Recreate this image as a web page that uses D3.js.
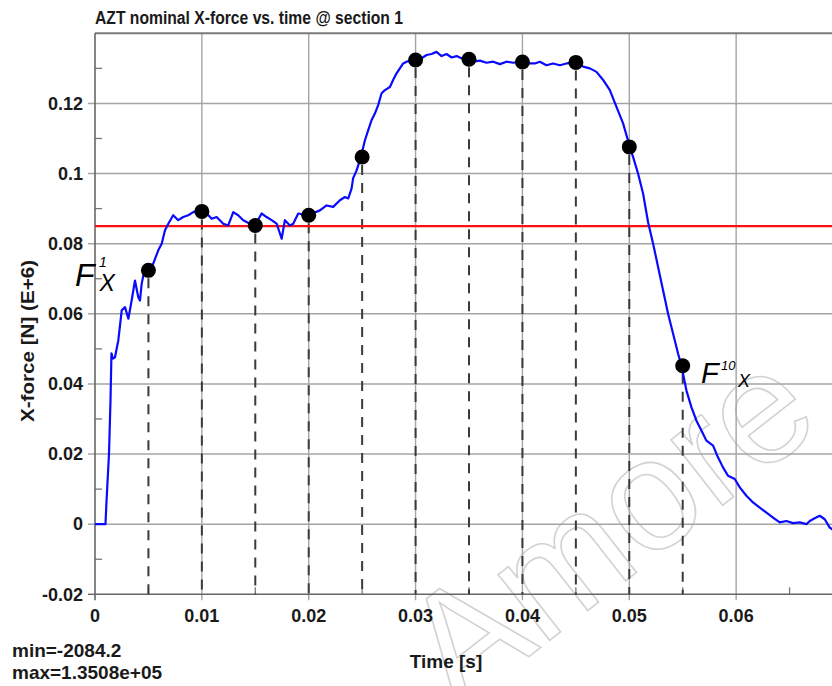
<!DOCTYPE html>
<html>
<head>
<meta charset="utf-8">
<script src="https://cdn.jsdelivr.net/npm/d3@7"></script>
<style>
  html, body { margin: 0; padding: 0; background: #fff; }
  svg { display: block; }
  text { font-family: "Liberation Sans", Arial, sans-serif; }
</style>
</head>
<body>
<svg id="chart" width="832" height="686"></svg>
<script>
// ---- data (time in s, X-force in N x 1e6) ----
const times = [0, 0.00084, 0.00098, 0.00108, 0.00131, 0.00145, 0.00154, 0.00168, 0.00187, 0.00218,
  0.0025, 0.00281, 0.00312, 0.00343, 0.00374, 0.00405, 0.00421, 0.00437, 0.00468, 0.00499,
  0.00545, 0.00592, 0.00624, 0.00655, 0.00686, 0.00732, 0.00779, 0.00826, 0.00873, 0.0092,
  0.00966, 0.00998, 0.01045, 0.01092, 0.01138, 0.012, 0.01247, 0.01294, 0.0134, 0.01387,
  0.0145, 0.01497, 0.01559, 0.01606, 0.01653, 0.017, 0.01747, 0.01777, 0.01824, 0.01855,
  0.01902, 0.01995, 0.02105, 0.02167, 0.02229, 0.02292, 0.02339, 0.0237, 0.02401, 0.02416,
  0.02448, 0.02488, 0.02526, 0.02557, 0.02588, 0.02619, 0.0265, 0.02682, 0.02713, 0.0276,
  0.0279, 0.02822, 0.02853, 0.02884, 0.02916, 0.03003, 0.03056, 0.03103, 0.0315, 0.03196,
  0.03243, 0.0329, 0.03337, 0.03384, 0.0343, 0.03487, 0.03539, 0.03602, 0.03664, 0.03726,
  0.03789, 0.03851, 0.03913, 0.03992, 0.04053, 0.04116, 0.04163, 0.04225, 0.04287, 0.0435,
  0.04413, 0.045, 0.04568, 0.04631, 0.04693, 0.04755, 0.04818, 0.0488, 0.04942, 0.05005,
  0.05036, 0.05082, 0.05129, 0.05176, 0.05223, 0.0527, 0.05316, 0.05363, 0.0541, 0.05457,
  0.05488, 0.05535, 0.05582, 0.05629, 0.05675, 0.05722, 0.05784, 0.05831, 0.05877, 0.05924,
  0.05987, 0.06034, 0.06096, 0.06158, 0.06221, 0.06284, 0.06345, 0.06408, 0.06471, 0.06532,
  0.06595, 0.06658, 0.06689, 0.06735, 0.06782, 0.06829, 0.06876, 0.06922];
const forces = [0, 0, 0, 0.0067, 0.0201, 0.0352, 0.0487, 0.0472, 0.0476, 0.0524,
  0.061, 0.0619, 0.0586, 0.0638, 0.0695, 0.0647, 0.0638, 0.0686, 0.0733, 0.0724,
  0.0743, 0.0781, 0.08, 0.0838, 0.0857, 0.0881, 0.0867, 0.0876, 0.0881, 0.089,
  0.0895, 0.0892, 0.0886, 0.0871, 0.0876, 0.0857, 0.0852, 0.089, 0.0881, 0.0867,
  0.0857, 0.0852, 0.0886, 0.0876, 0.0867, 0.0857, 0.0814, 0.0867, 0.0852, 0.0857,
  0.0886, 0.0881, 0.0895, 0.0909, 0.0905, 0.0924, 0.0933, 0.0929, 0.0957, 0.0987,
  0.1009, 0.1047, 0.1095, 0.1124, 0.1152, 0.1171, 0.1195, 0.1229, 0.1238, 0.1247,
  0.1267, 0.1286, 0.13, 0.1314, 0.1319, 0.1324, 0.1329, 0.1338, 0.1341, 0.1347,
  0.1335, 0.1341, 0.1331, 0.1335, 0.1329, 0.1326, 0.1319, 0.1322, 0.1316, 0.1319,
  0.1312, 0.1319, 0.1316, 0.1319, 0.1314, 0.1314, 0.1319, 0.1309, 0.1314, 0.1309,
  0.1314, 0.1317, 0.1305, 0.13, 0.129, 0.1267, 0.1238, 0.119, 0.1143, 0.1076,
  0.1047, 0.1, 0.0943, 0.0861, 0.08, 0.0733, 0.0667, 0.06, 0.0543, 0.0486,
  0.0452, 0.0381, 0.0333, 0.0295, 0.0267, 0.0238, 0.0224, 0.019, 0.0162, 0.0138,
  0.0129, 0.0105, 0.0081, 0.0062, 0.0047, 0.0033, 0.0019, 0.0005, 0.0009, 0.0003,
  0.0005, 0, 0.0009, 0.0017, 0.0024, 0.0014, -0.001, -0.0019];

const sampleTimes = [0.005, 0.01, 0.015, 0.02, 0.025, 0.03, 0.035, 0.04, 0.045, 0.05, 0.055];
const sampleForces = [0.0724, 0.0892, 0.0852, 0.0881, 0.1047, 0.1324, 0.1326, 0.1318, 0.1317, 0.1076, 0.0452];
const meanForce = 0.085;

const xTicks = [0, 0.01, 0.02, 0.03, 0.04, 0.05, 0.06];
const xTickLabels = ["0", "0.01", "0.02", "0.03", "0.04", "0.05", "0.06"];
const xMinorTicks = [0.005, 0.015, 0.025, 0.035, 0.045, 0.055, 0.065];
const yTicks = [-0.02, 0, 0.02, 0.04, 0.06, 0.08, 0.1, 0.12];
const yTickLabels = ["-0.02", "0", "0.02", "0.04", "0.06", "0.08", "0.1", "0.12"];
const yMinorTicks = [-0.01, 0.01, 0.03, 0.05, 0.07, 0.09, 0.11, 0.13];

const titleText = "AZT nominal X-force vs. time @ section 1";
const xLabel = "Time [s]";
const yLabel = "X-force [N] (E+6)";
const statsLines = ["min=-2084.2", "max=1.3508e+05"];

(function () {
// ---- layout ----
const svg = d3.select("#chart");
const pL = 95, pT = 33.3, pB = 594.3, pR = 843;
const x = d3.scaleLinear().domain([0, 0.07]).range([pL, pR]);
const y = d3.scaleLinear().domain([-0.02, 0.14]).range([pB, pT]);

svg.append("defs").append("clipPath").attr("id", "plotclip")
  .append("rect").attr("x", pL).attr("y", pT).attr("width", pR - pL).attr("height", pB - pT);

// watermark
svg.append("text")
  .attr("transform", "translate(458,712) rotate(-38)")
  .attr("font-size", 158)
  .attr("fill", "none")
  .attr("stroke", "#d2d2d2")
  .attr("stroke-width", 1.6)
  .text("Amore");

// gridlines
const grid = svg.append("g");
grid.selectAll(".vg").data(xTicks.filter(d => d > 0)).join("line")
  .attr("x1", d => x(d)).attr("x2", d => x(d))
  .attr("y1", pT).attr("y2", pB + 6)
  .attr("stroke", "#a4a4a4").attr("stroke-width", 1.4);
grid.selectAll(".hg").data(yTicks.filter(d => d > -0.02)).join("line")
  .attr("x1", pL - 7).attr("x2", 832)
  .attr("y1", d => y(d)).attr("y2", d => y(d))
  .attr("stroke", "#a4a4a4").attr("stroke-width", 1.4);

// minor ticks
grid.selectAll(".ym").data(yMinorTicks).join("line")
  .attr("x1", pL).attr("x2", pL + 7)
  .attr("y1", d => y(d)).attr("y2", d => y(d))
  .attr("stroke", "#777").attr("stroke-width", 1.3);
grid.selectAll(".xm").data(xMinorTicks).join("line")
  .attr("x1", d => x(d)).attr("x2", d => x(d))
  .attr("y1", pB - 7).attr("y2", pB)
  .attr("stroke", "#777").attr("stroke-width", 1.3);
svg.append("line").attr("x1", pL - 7).attr("x2", pL).attr("y1", y(-0.02)).attr("y2", y(-0.02))
  .attr("stroke", "#666").attr("stroke-width", 1.4);

// frame
svg.append("line").attr("x1", pL).attr("x2", 832).attr("y1", pT).attr("y2", pT)
  .attr("stroke", "#7a7a7a").attr("stroke-width", 2);
svg.append("line").attr("x1", pL).attr("x2", 832).attr("y1", pB).attr("y2", pB)
  .attr("stroke", "#666").attr("stroke-width", 1.6);
svg.append("line").attr("x1", pL).attr("x2", pL).attr("y1", pT).attr("y2", pB + 6)
  .attr("stroke", "#666").attr("stroke-width", 1.6);

// dashed drop lines
svg.append("g").selectAll("line").data(sampleTimes).join("line")
  .attr("x1", d => x(d)).attr("x2", d => x(d))
  .attr("y1", (d, i) => y(sampleForces[i]) + 8).attr("y2", pB)
  .attr("stroke", "#3a3a3a").attr("stroke-width", 2)
  .attr("stroke-dasharray", "10,8");

// red mean line
svg.append("line").attr("x1", pL).attr("x2", 832)
  .attr("y1", y(meanForce)).attr("y2", y(meanForce))
  .attr("stroke", "#ff1010").attr("stroke-width", 2.4);

// blue curve
const line = d3.line().x(d => x(d[0])).y(d => y(d[1]));
svg.append("path")
  .attr("clip-path", "url(#plotclip)")
  .datum(times.map((t, i) => [t, forces[i]]))
  .attr("d", line)
  .attr("fill", "none").attr("stroke", "#0a0aff").attr("stroke-width", 2.2)
  .attr("stroke-linejoin", "round");

// sample dots
svg.append("g").selectAll("circle").data(sampleTimes).join("circle")
  .attr("cx", d => x(d)).attr("cy", (d, i) => y(sampleForces[i]))
  .attr("r", 7.5).attr("fill", "#000");

// tick labels
svg.append("g").selectAll("text").data(yTicks).join("text")
  .attr("x", 83).attr("y", d => y(d)).attr("dy", "0.35em")
  .attr("text-anchor", "end").attr("font-size", 18).attr("font-weight", "bold").attr("fill", "#1a1a1a")
  .text((d, i) => yTickLabels[i]);
svg.append("g").selectAll("text").data(xTicks).join("text")
  .attr("x", d => x(d)).attr("y", 621.5)
  .attr("text-anchor", "middle").attr("font-size", 18).attr("font-weight", "bold").attr("fill", "#1a1a1a")
  .text((d, i) => xTickLabels[i]);

// title
svg.append("text").attr("x", 95).attr("y", 24)
  .attr("font-size", 18).attr("font-weight", "bold").attr("fill", "#1a1a1a")
  .attr("textLength", 308).attr("lengthAdjust", "spacingAndGlyphs")
  .text(titleText);

// axis labels
svg.append("text").attr("x", 446).attr("y", 668)
  .attr("text-anchor", "middle").attr("font-size", 19).attr("font-weight", "bold").attr("fill", "#1a1a1a")
  .text(xLabel);
svg.append("text").attr("transform", "translate(33.5,341) rotate(-90)")
  .attr("text-anchor", "middle").attr("font-size", 19).attr("font-weight", "bold").attr("fill", "#1a1a1a")
  .attr("textLength", 162).attr("lengthAdjust", "spacingAndGlyphs")
  .text(yLabel);

// stats
svg.append("g").selectAll("text").data(statsLines).join("text")
  .attr("x", 12).attr("y", (d, i) => 656.5 + i * 22.5)
  .attr("font-size", 19).attr("font-weight", "bold").attr("fill", "#1a1a1a")
  .text(d => d);

// F labels
function fLabel(xF, yF, fs, sup, supFs, xs, ys, sub, subFs, xb, yb) {
  const g = svg.append("g").attr("font-style", "italic").attr("fill", "#000");
  g.append("text").attr("x", xF).attr("y", yF).attr("font-size", fs).text("F");
  g.append("text").attr("x", xs).attr("y", ys).attr("font-size", supFs).text(sup);
  g.append("text").attr("x", xb).attr("y", yb).attr("font-size", subFs).text(sub);
}
fLabel(75, 286, 32, "1", 14, 99, 266.5, "X", 23, 99.5, 291);
fLabel(701, 382.5, 29, "10", 13, 721, 370, "X", 18, 738, 387);
})();
</script>
</body>
</html>
